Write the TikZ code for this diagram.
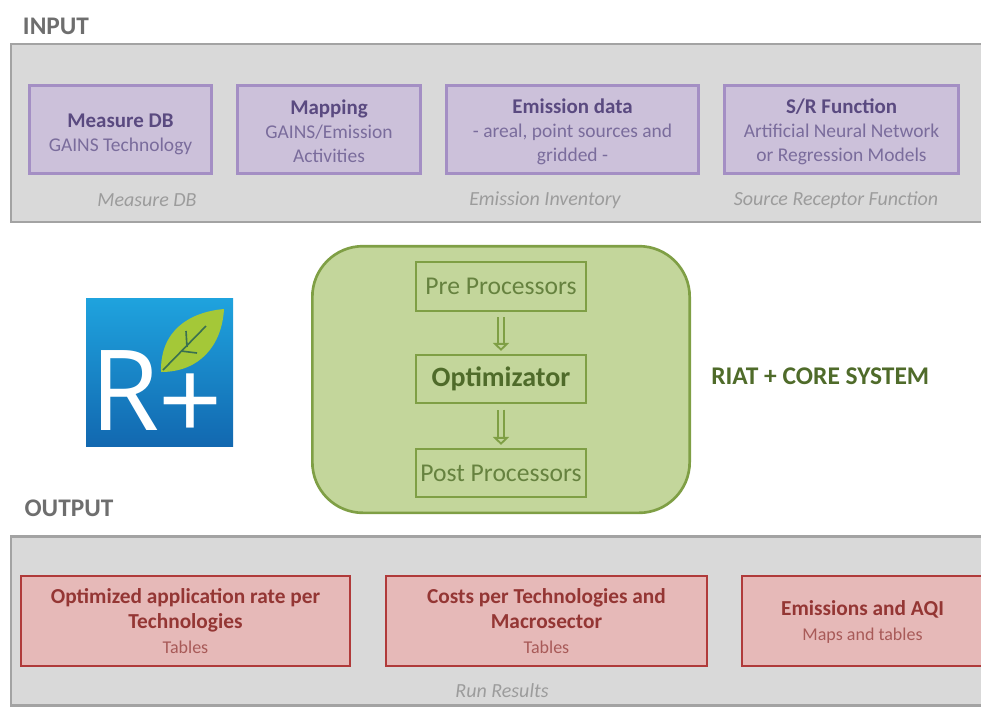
\documentclass[tikz,border=0pt]{standalone}
\usepackage{fontspec}
\setmainfont{Carlito}
\newfontfamily\logofont{Open Sans}
\usetikzlibrary{positioning,arrows.meta}
\definecolor{framefill}{HTML}{D9D9D9}
\definecolor{framedraw}{HTML}{A3A3A3}
\definecolor{headgray}{HTML}{6E6E6E}
\definecolor{notegray}{HTML}{9C9C9C}
\definecolor{infill}{HTML}{CCC1DA}
\definecolor{indraw}{HTML}{A48FC4}
\definecolor{inhead}{HTML}{5A4A80}
\definecolor{intext}{HTML}{7A6C9C}
\definecolor{corefill}{HTML}{C3D69B}
\definecolor{coredraw}{HTML}{7F9F45}
\definecolor{coretext}{HTML}{66823F}
\definecolor{corehead}{HTML}{4F6B2A}
\definecolor{outfill}{HTML}{E6B9B8}
\definecolor{outdraw}{HTML}{B03A3A}
\definecolor{outhead}{HTML}{943634}
\definecolor{outtext}{HTML}{A85A58}
\definecolor{logotop}{HTML}{1FA3DE}
\definecolor{logobot}{HTML}{1268B0}
\definecolor{leaffill}{HTML}{A4C838}
\definecolor{leafvein}{HTML}{3A7050}
\tikzset{
  frame/.style={draw=framedraw,fill=framefill,line width=2pt,minimum height=#1,inner sep=0pt},
  inbox/.style={draw=indraw,fill=infill,line width=2.4pt,minimum height=66pt,align=center,inner sep=0pt,text=intext,font=\fontsize{14.6}{18}\selectfont},
  outbox/.style={draw=outdraw,fill=outfill,line width=1.6pt,minimum height=67pt,align=center,inner sep=0pt,text=outtext,font=\fontsize{13.5}{18.5}\selectfont},
  corebox/.style={draw=coredraw,fill=corefill,line width=1.6pt,minimum width=127pt,minimum height=36.5pt,inner sep=0pt,text=coretext,font=\fontsize{19.2}{20}\selectfont},
  flowarrow/.style={draw=coredraw,double=corefill,double distance=3.5pt,line width=1.4pt,-{Triangle[open,fill=corefill,length=6pt,width=12pt]},shorten <=4pt,shorten >=2pt},
  headline/.style={text=headgray,font=\fontsize{19}{20}\selectfont\bfseries,inner sep=0pt},
  note/.style={text=notegray,font=\fontsize{15}{16}\selectfont\itshape,inner sep=0pt}
}
\newcommand{\inhd}[1]{\textcolor{inhead}{\bfseries\fontsize{15.7}{18}\selectfont\rule{0pt}{14pt}#1}\\}
\newcommand{\outhd}[1]{\textcolor{outhead}{\bfseries\fontsize{16}{18}\selectfont #1}\\}
\begin{document}
\begin{tikzpicture}[x=0.75pt,y=-0.75pt]
	\useasboundingbox (0,0) rectangle (981,708);
	\clip (0,0) rectangle (981,708);
	% input row
	\node[headline] (inputlabel) at (56,26) {INPUT};
	\node[frame=133.5pt,minimum width=780pt] (inputframe) at (531,133) {};
	\node[inbox,minimum width=137pt] (measure) at (120.5,129.5) {\inhd{\rule{0pt}{17pt}Measure DB}GAINS Technology};
	\node[inbox,minimum width=137pt] (mapping) at (329,129.5) {\inhd{Mapping}GAINS/Emission\\Activities};
	\node[inbox,minimum width=189pt] (emission) at (572.5,129.5) {\inhd{Emission data}- areal, point sources and\\gridded -};
	\node[inbox,minimum width=175pt] (srfunc) at (841.5,129.5) {\inhd{S/R Function}Artificial Neural Network\\or Regression Models};
	\node[note] (notemeasure) at (147,200) {Measure DB};
	\node[note] (noteinventory) at (545,200) {Emission Inventory};
	\node[note] (notesource) at (836,200) {Source Receptor Function};
	% logo
	\shade[top color=logotop,bottom color=logobot] (86,298) rectangle (233,446);
	\fill[leaffill] (161,372) .. controls (160,330) and (190,312) .. (224,309) .. controls (222,345) and (200,372) .. (161,372) -- cycle;
	\draw[leafvein,line width=1.2pt] (163,370) -- (206,326) (187,347) -- (186,331) (181,351) -- (197,353);
	\node[text=white,inner sep=0pt,anchor=base west,font=\fontsize{84}{84}\logofont] (logotext) at (90,430) {R\kern-0.5pt\raisebox{-8pt}{+}};
	% core system
	\node[draw=coredraw,fill=corefill,line width=2pt,rounded corners=38pt,minimum width=283pt,minimum height=200pt] (core) at (501,379.5) {};
	\node[corebox] (pre) at (501,286.5) {Pre Processors};
	\node[corebox,text=corehead,font=\fontsize{21}{22}\selectfont\bfseries] (opt) at (501,379) {Optimizator};
	\node[corebox] (post) at (501,473) {Post Processors};
	\draw[flowarrow] (pre) -- (opt);
	\draw[flowarrow] (opt) -- (post);
	\node[text=corehead,inner sep=0pt,anchor=west,font=\fontsize{19.1}{20}\selectfont\bfseries] (coresystem) at (711,376) {RIAT + CORE SYSTEM};
	% output row
	\node[headline] (outputlabel) at (69,508) {OUTPUT};
	\node[frame=127pt,minimum width=780pt] (outputframe) at (531,621) {};
	\node[outbox,minimum width=247pt] (rate) at (185.5,621) {\outhd{Optimized application rate per}\outhd{Technologies}Tables};
	\node[outbox,minimum width=241pt] (costs) at (546.5,621) {\outhd{Costs per Technologies and}\outhd{Macrosector}Tables};
	\node[outbox,minimum width=247pt] (aqi) at (907,621) {};
	\node[outbox,draw=none,fill=none,minimum width=0pt] (aqitext) at (862.5,622) {\outhd{Emissions and AQI}Maps and tables};
	\node[note] (noteresults) at (502,691) {Run Results};
\end{tikzpicture}
\end{document}
